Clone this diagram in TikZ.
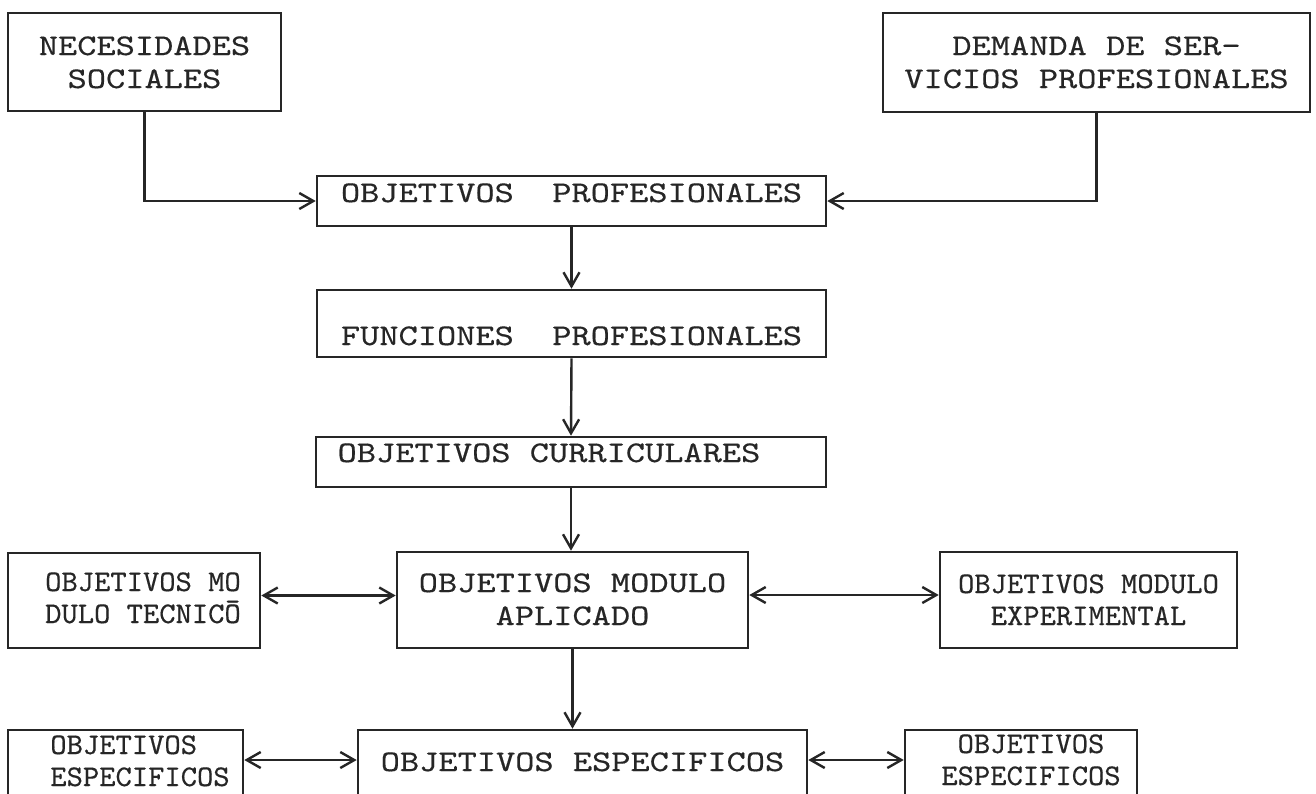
\documentclass[tikz,border=0pt]{standalone}
\usepackage{fontspec}
\newfontfamily\twb{lmmono10-regular}[Extension=.otf,FakeStretch=1.22,FakeBold=0.4]
\newfontfamily\tws{lmmono10-regular}[Extension=.otf,FakeStretch=1.035,FakeBold=0.4]
\usetikzlibrary{arrows.meta,fit}
\newcommand{\bigtw}{\twb\fontsize{15pt}{16.5pt}\selectfont}
\newcommand{\smalltw}{\tws\fontsize{15pt}{16pt}\selectfont}
% raised, zero-height text block: #1 raise, #2 column spec, #3 lines
\newcommand{\tx}[3]{\raisebox{#1}[0pt][0pt]{\begin{tabular}[b]{@{}#2@{}}#3\end{tabular}}}
\tikzset{
  box/.style={draw=black!85, line width=1.3pt, inner sep=0pt, font=\bigtw, text=black!85},
  sbox/.style={box, font=\smalltw},
  arr/.style={draw=black!85, line width=1.2pt, -{Straight Barb[length=7pt,width=8pt]}},
  darr/.style={draw=black!85, line width=1.2pt, {Straight Barb[length=7pt,width=8pt]}-{Straight Barb[length=7pt,width=8pt]}}
}
\begin{document}
\begin{tikzpicture}[x=0.5pt,y=-0.5pt]
\useasboundingbox (0,0) rectangle (1316,793);
\fill[white] (0,0) rectangle (1316,793);
\clip (0,0) rectangle (1316,793);

\node[box, fit={(8,13) (281,111)}] (nec) {\tx{-13pt}{c}{NECESIDADES\\SOCIALES}};
\node[box, fit={(883,13) (1310,112)}] (dem) {\tx{-12.75pt}{c}{DEMANDA DE SER-\\VICIOS PROFESIONALES}};
\node[box, fit={(317,176) (826,226)}] (objprof) {\tx{-0.5pt}{c}{OBJETIVOS\ \ PROFESIONALES}};
\node[box, fit={(317,290) (826,357)}] (func) {\tx{-10.75pt}{c}{FUNCIONES\ \ PROFESIONALES}};
\node[box, fit={(316,437) (826,487)}] (curric) {\tx{0pt}{c}{OBJETIVOS CURRICULARES\hspace*{22pt}}};
\node[box, fit={(397,552) (748,648)}] (aplic) {\tx{-12.5pt}{c}{OBJETIVOS MODULO\\APLICADO}};
\node[sbox, fit={(8,553) (260,648)}] (tec) {\hspace*{9pt}\tx{-11.25pt}{c}{OBJETIVOS MO\\DULO TECNICŌ}};
\node[sbox, fit={(940,552) (1237,648)}] (exp) {\tx{-12.5pt}{c}{OBJETIVOS MODULO\\EXPERIMENTAL}};
\node[box, fit={(358,730) (807,798)}] (espec) {\tx{-3.5pt}{c}{OBJETIVOS ESPECIFICOS}};
\node[sbox, fit={(8,730) (243,798)}] (espl) {\hspace*{14.5pt}\tx{-11pt}{l}{OBJETIVOS\\ESPECIFICOS}};
\node[sbox, fit={(905,730) (1137,798)}] (espr) {\hspace*{10pt}\tx{-10.5pt}{c}{OBJETIVOS\\ESPECIFICOS}};

\draw[arr] (nec.south) |- (objprof.west);
\draw[arr] (dem.south) |- (objprof.east);
\draw[arr] (objprof.south) -- (func.north);
\draw[arr] (func.south) -- (curric.north);
\draw[arr] (curric.south) -- (curric.south |- aplic.north);
\draw[darr] ([yshift=2.5pt]tec.east) -- ([yshift=2.5pt]tec.east -| aplic.west);
\draw[darr] ([yshift=2.5pt]aplic.east) -- ([yshift=2.5pt]aplic.east -| exp.west);
\draw[arr] (aplic.south) -- (aplic.south |- espec.north);
\draw[darr] ([yshift=2pt]espl.east) -- ([yshift=2pt]espl.east -| espec.west);
\draw[darr] ([yshift=2pt]espec.east) -- ([yshift=2pt]espec.east -| espr.west);
\end{tikzpicture}
\end{document}
